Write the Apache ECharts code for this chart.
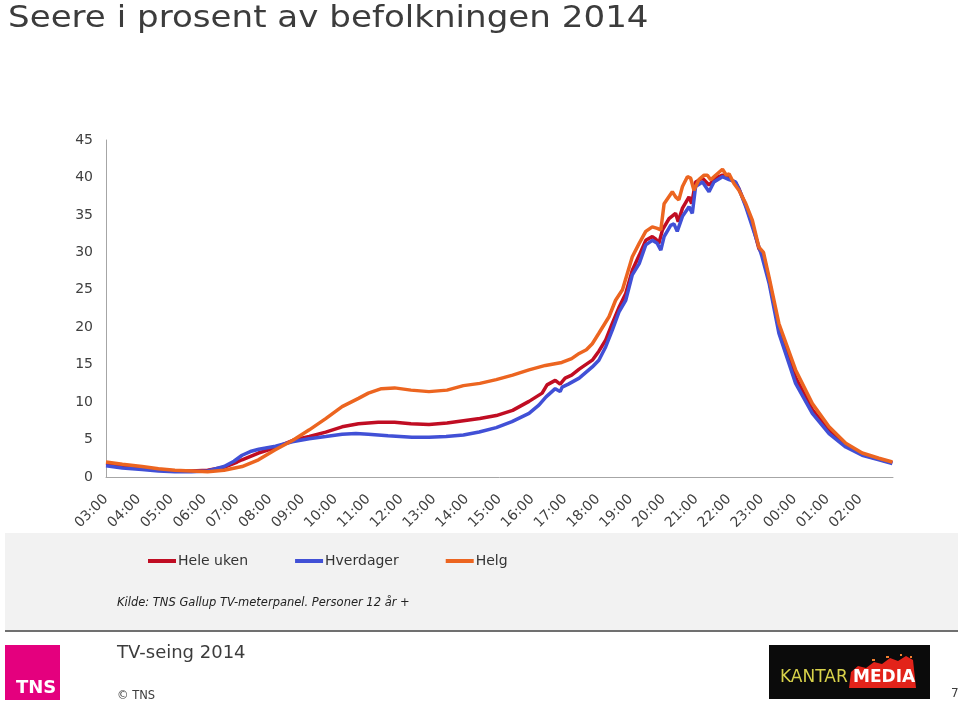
<!DOCTYPE html>
<html>
<head>
<meta charset="utf-8">
<script src="https://cdn.jsdelivr.net/npm/echarts@6/dist/echarts.min.js"></script>
<style>
html,body{margin:0;padding:0;background:#fff;}
#chart{width:960px;height:705px;}
</style>
</head>
<body>
<div id="chart"></div>
<script>
// Tick labels (hours from 03:00)
var tickLabels = ['03:00','04:00','05:00','06:00','07:00','08:00','09:00','10:00','11:00','12:00','13:00','14:00','15:00','16:00','17:00','18:00','19:00','20:00','21:00','22:00','23:00','00:00','01:00','02:00'];
var yTicks = [0,5,10,15,20,25,30,35,40,45];
var seriesNames = ['Hele uken','Hverdager','Helg'];

// Hele uken (hours after 03:00, percent)
var heleHours = [0,0.5,1.1,1.6,2.1,2.6,3.1,3.6,4.0,4.15,4.65,5.15,5.7,6.2,6.7,7.2,7.7,8.3,8.8,9.3,9.85,10.4,10.9,11.4,11.9,12.4,12.9,13.3,13.45,13.7,13.85,13.91,14.0,14.2,14.43,14.83,15.03,15.24,15.44,15.65,15.85,16.05,16.26,16.46,16.66,16.76,16.86,16.97,17.17,17.37,17.45,17.58,17.78,17.86,17.98,18.19,18.39,18.59,18.8,19.0,19.2,19.3,19.51,19.71,19.91,20.05,20.22,20.52,21.03,21.54,22.05,22.56,23.06,23.57,23.98];
var heleVals = [1.8,1.5,1.2,1.0,0.8,0.8,0.9,1.3,2.0,2.3,3.2,3.9,4.9,5.4,6.0,6.7,7.1,7.3,7.3,7.1,7.0,7.2,7.5,7.8,8.2,8.9,10.1,11.2,12.3,12.9,12.4,12.6,13.2,13.6,14.4,15.6,16.8,18.3,20.5,22.7,24.5,27.6,29.6,31.6,32.1,31.8,31.2,33.0,34.5,35.2,34.1,35.9,37.4,36.5,39.4,39.9,39.0,39.9,40.3,39.9,39.3,38.5,36.3,33.8,30.5,29.6,26.3,19.9,13.3,9.0,6.2,4.2,3.0,2.4,1.9];

// Hverdager
var hverHours = [0,0.5,1.1,1.6,2.1,2.6,3.1,3.6,3.9,4.15,4.4,4.66,5.17,5.68,6.19,6.7,7.2,7.62,8.0,8.6,9.33,9.85,10.37,10.9,11.38,11.9,12.38,12.9,13.2,13.42,13.7,13.85,13.91,14.1,14.43,14.83,15.03,15.24,15.44,15.65,15.85,16.05,16.26,16.46,16.66,16.81,16.92,17.02,17.22,17.32,17.42,17.58,17.78,17.88,17.98,18.19,18.39,18.54,18.8,19.0,19.2,19.3,19.51,19.81,20.0,20.22,20.52,21.03,21.54,22.05,22.56,23.06,23.57,23.98];
var hverVals = [1.5,1.2,1.0,0.8,0.7,0.7,0.8,1.4,2.1,2.9,3.4,3.7,4.1,4.7,5.1,5.4,5.7,5.8,5.7,5.5,5.3,5.3,5.4,5.6,6.0,6.6,7.4,8.5,9.6,10.7,11.8,11.4,12.0,12.4,13.2,14.7,15.6,17.4,19.6,22.1,23.6,27.0,28.5,31.0,31.6,31.2,30.3,32.1,33.6,33.8,32.8,34.8,36.1,35.2,38.8,39.4,38.1,39.4,40.1,39.7,39.4,38.5,36.1,32.1,29.5,25.9,19.2,12.5,8.5,5.8,4.0,2.9,2.3,1.8];

// Helg
var helgHours = [0,0.5,1.1,1.6,2.1,2.6,3.1,3.6,4.15,4.65,5.15,5.7,6.2,6.7,7.2,7.7,8.0,8.4,8.8,9.3,9.85,10.4,10.9,11.4,11.9,12.4,12.9,13.4,13.9,14.2,14.43,14.65,14.83,15.03,15.34,15.54,15.75,15.9,16.05,16.26,16.46,16.66,16.81,16.92,17.02,17.27,17.37,17.47,17.58,17.73,17.83,17.93,18.08,18.24,18.34,18.44,18.59,18.8,18.92,19.0,19.15,19.3,19.51,19.71,19.91,20.05,20.22,20.52,21.03,21.54,22.05,22.56,23.06,23.57,23.98];
var helgVals = [2.0,1.7,1.4,1.1,0.9,0.8,0.7,0.9,1.4,2.3,3.6,4.9,6.3,7.8,9.4,10.5,11.2,11.8,11.9,11.6,11.4,11.6,12.2,12.5,13.0,13.6,14.3,14.9,15.3,15.8,16.5,17.0,17.8,19.2,21.4,23.6,25.0,27.2,29.4,31.2,32.8,33.4,33.2,33.0,36.5,38.1,37.4,37.0,38.8,40.1,39.9,38.3,39.7,40.3,40.3,39.7,40.3,41.1,40.3,40.5,39.2,38.3,36.5,34.3,30.7,30.0,26.7,20.5,14.3,9.8,6.7,4.5,3.2,2.5,2.0];

function pairs(xs, ys){ var out=[]; for(var i=0;i<xs.length;i++){ out.push([xs[i], ys[i]]); } return out; }

var FONT = 'DejaVu Sans';
var chart = echarts.init(document.getElementById('chart'), null, {renderer:'canvas'});

var option = {
  animation: false,
  backgroundColor: '#ffffff',
  legend: {
    data: seriesNames,
    left: 143, top: 549,
    icon: 'rect',
    itemWidth: 28, itemHeight: 4,
    itemGap: 47,
    textStyle: {fontFamily: FONT, fontSize: 14, color: '#333333', padding: [0,0,0,-3]},
    z: 10
  },
  grid: {left: 106, right: 67, top: 140, bottom: 228, containLabel: false},
  xAxis: {
    type: 'value', min: 0, max: 24, interval: 1,
    axisLine: {show: true, lineStyle: {color: '#a6a6a6', width: 1}},
    axisTick: {show: false},
    splitLine: {show: false},
    axisLabel: {
      rotate: 45, margin: 20,
      fontFamily: FONT, fontSize: 14, color: '#404040',
      formatter: function(v){ return v < 24 ? tickLabels[v] : ''; }
    }
  },
  yAxis: {
    type: 'value', min: yTicks[0], max: yTicks[yTicks.length-1], interval: 5,
    axisLine: {show: true, lineStyle: {color: '#a6a6a6', width: 1}},
    axisTick: {show: false},
    splitLine: {show: false},
    axisLabel: {margin: 13, fontFamily: FONT, fontSize: 14, color: '#404040'}
  },
  series: [
    {name: seriesNames[0], type: 'line', data: pairs(heleHours, heleVals), showSymbol: false, symbol: 'none',
     lineStyle: {color: '#c00d23', width: 3.5}, itemStyle: {color: '#c00d23'}},
    {name: seriesNames[1], type: 'line', data: pairs(hverHours, hverVals), showSymbol: false, symbol: 'none',
     lineStyle: {color: '#4150d6', width: 3.5}, itemStyle: {color: '#4150d6'}},
    {name: seriesNames[2], type: 'line', data: pairs(helgHours, helgVals), showSymbol: false, symbol: 'none',
     lineStyle: {color: '#ec6520', width: 3.5}, itemStyle: {color: '#ec6520'}}
  ],
  graphic: [
    {type: 'text', x: 8, y: 3, scaleX: 1.1, scaleY: 1.0,
     style: {text: 'Seere i prosent av befolkningen 2014', font: '31px "DejaVu Sans"', fill: '#3c3c3c', textVerticalAlign: 'top'}},
    {type: 'rect', z: -10, shape: {x: 5, y: 533, width: 953, height: 97}, style: {fill: '#f2f2f2'}},
    {type: 'text', left: 117, top: 597, style: {text: 'Kilde: TNS Gallup TV-meterpanel. Personer 12 år +', font: 'italic 11.5px "DejaVu Sans"', fill: '#222222'}},
    {type: 'line', shape: {x1: 5, y1: 631, x2: 958, y2: 631}, style: {stroke: '#404040', lineWidth: 1.5}},
    {type: 'text', left: 117, top: 644, style: {text: 'TV-seing 2014', font: '18px "DejaVu Sans"', fill: '#3c3c3c'}},
    {type: 'text', left: 117, top: 690, style: {text: '\u00A9 TNS', font: '11.5px "DejaVu Sans"', fill: '#3c3c3c'}},
    {type: 'text', left: 951, top: 688, style: {text: '7', font: '12px "DejaVu Sans"', fill: '#3c3c3c'}},
    // TNS logo
    {type: 'rect', shape: {x: 5, y: 645, width: 55, height: 55}, style: {fill: '#e4007e'}},
    {type: 'text', left: 16, top: 679, style: {text: 'TNS', font: 'bold 18px "DejaVu Sans"', fill: '#ffffff'}},
    // Kantar Media logo
    {type: 'rect', shape: {x: 769, y: 645, width: 161, height: 54}, style: {fill: '#0b0b0b'}},
    {type: 'polygon', shape: {points: [[849,688],[851,672],[858,666],[866,668],[874,662],[882,664],[890,658],[898,661],[906,656],[913,660],[916,688]]}, style: {fill: '#e2231a'}},
    {type: 'rect', shape: {x: 872, y: 659, width: 3, height: 2}, style: {fill: '#f08030'}},
    {type: 'rect', shape: {x: 886, y: 656, width: 3, height: 2}, style: {fill: '#f08030'}},
    {type: 'rect', shape: {x: 900, y: 654, width: 2, height: 2}, style: {fill: '#f08030'}},
    {type: 'rect', shape: {x: 910, y: 656, width: 2, height: 2}, style: {fill: '#f08030'}},
    {type: 'text', left: 780, top: 669, style: {text: 'KANTAR', font: '17px "DejaVu Sans"', fill: '#d8d24a'}},
    {type: 'text', left: 853, top: 669, style: {text: 'MEDIA', font: 'bold 17px "DejaVu Sans"', fill: '#ffffff'}}
  ]
};
chart.setOption(option);
</script>
</body>
</html>
